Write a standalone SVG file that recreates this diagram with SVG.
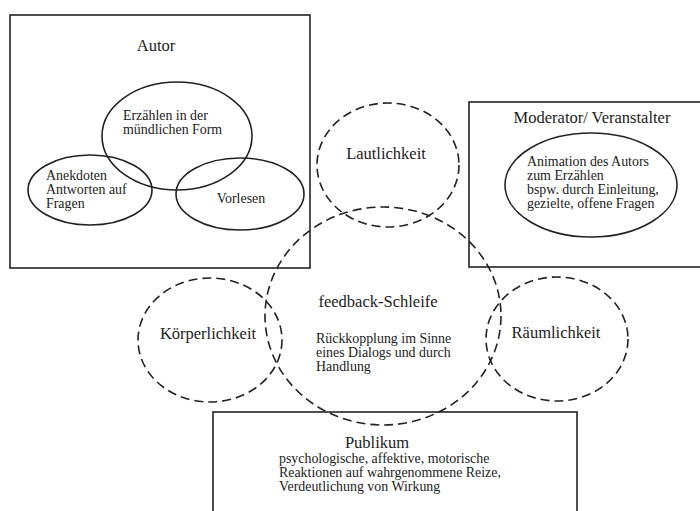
<svg xmlns="http://www.w3.org/2000/svg" width="700" height="511" viewBox="0 0 700 511">
<style>
.box{fill:none;stroke:#222;stroke-width:1.6}
.ell{fill:none;stroke:#222;stroke-width:1.6}
.dash{fill:none;stroke:#222;stroke-width:1.6;stroke-dasharray:9,5}
.t{font-size:16.5px;text-anchor:middle}
.s{font-size:13.9px}
.sm{font-size:13.9px;text-anchor:middle}
</style>
<rect width="700" height="511" fill="#fff"/>
<g font-family="'Liberation Serif', 'Times New Roman', 'DejaVu Serif', serif" fill="#222">
<g id="autor">
<rect class="box" x="10" y="15" width="300" height="253"/>
<text class="t" x="156" y="51">Autor</text>
</g>
<g id="erzaehlen">
<ellipse class="ell" cx="177" cy="136" rx="75" ry="54"/>
<text class="s" x="123" y="120">Erzählen in der</text>
<text class="s" x="123" y="134">mündlichen Form</text>
</g>
<g id="anekdoten">
<ellipse class="ell" cx="90" cy="190" rx="62" ry="35"/>
<text class="s" x="46" y="180">Anekdoten</text>
<text class="s" x="46" y="194">Antworten auf</text>
<text class="s" x="46" y="208">Fragen</text>
</g>
<g id="vorlesen">
<ellipse class="ell" cx="240" cy="194" rx="64" ry="36"/>
<text class="sm" x="241" y="203">Vorlesen</text>
</g>
<g id="moderator">
<rect class="box" x="469" y="102" width="240" height="165"/>
<text class="t" x="592" y="123">Moderator/ Veranstalter</text>
</g>
<g id="animation">
<ellipse class="ell" cx="591" cy="185" rx="86" ry="52"/>
<text class="s" x="527" y="166">Animation des Autors</text>
<text class="s" x="527" y="180">zum Erzählen</text>
<text class="s" x="527" y="194">bspw. durch Einleitung,</text>
<text class="s" x="527" y="208">gezielte, offene Fragen</text>
</g>
<g id="lautlichkeit">
<ellipse class="dash" cx="388" cy="165" rx="71" ry="62"/>
<text class="t" x="386" y="159">Lautlichkeit</text>
</g>
<g id="feedback">
<ellipse class="dash" cx="383" cy="316" rx="118" ry="109"/>
<text class="t" x="378" y="307">feedback-Schleife</text>
<text class="s" x="316" y="343">Rückkopplung im Sinne</text>
<text class="s" x="316" y="357">eines Dialogs und durch</text>
<text class="s" x="316" y="371">Handlung</text>
</g>
<g id="koerperlichkeit">
<ellipse class="dash" cx="210" cy="340" rx="72" ry="62"/>
<text class="t" x="208" y="339">Körperlichkeit</text>
</g>
<g id="raeumlichkeit">
<ellipse class="dash" cx="557" cy="339" rx="71" ry="62"/>
<text class="t" x="556" y="338">Räumlichkeit</text>
</g>
<g id="publikum">
<rect class="box" x="213" y="412" width="364" height="120"/>
<text class="t" x="377" y="448">Publikum</text>
<text class="s" x="279" y="463">psychologische, affektive, motorische</text>
<text class="s" x="279" y="477">Reaktionen auf wahrgenommene Reize,</text>
<text class="s" x="279" y="491">Verdeutlichung von Wirkung</text>
</g>
</g>
<g id="connectors"></g>
</svg>
